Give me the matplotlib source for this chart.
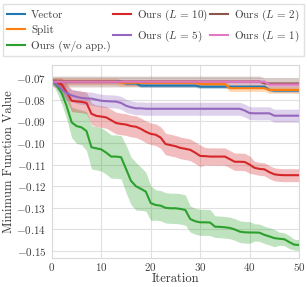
import numpy as np
import matplotlib
matplotlib.use("Agg")
import matplotlib.pyplot as plt

# Minimum function value vs. iteration (mean +/- std)

iterations = np.arange(51)

vector_mean = [-0.0716] * 15 + [-0.0725] * 3 + [-0.0735] * 12 + [-0.0740] * 14 + [-0.0755] + [-0.0758] * 6
vector_std = [0.0008] * 51

split_mean = [-0.0716] * 14 + [-0.0722] * 16 + [-0.0728] * 6 + [-0.0747] * 8 + [-0.0755] * 7
split_std = [0.0015] * 51

woapp_mean = [-0.0712, -0.0735, -0.0770, -0.0830, -0.0905, -0.0922, -0.0928, -0.0945, -0.1020, -0.1025,
              -0.1030, -0.1045, -0.1063, -0.1063, -0.1066, -0.1120, -0.1175, -0.1200, -0.1212, -0.1225,
              -0.1278, -0.1287, -0.1290, -0.1300, -0.1302, -0.1302, -0.1305, -0.1310, -0.1352, -0.1362,
              -0.1367, -0.1367, -0.1368, -0.1387, -0.1388, -0.1390, -0.1393, -0.1400, -0.1410, -0.1413,
              -0.1414, -0.1414, -0.1415, -0.1425, -0.1432, -0.1440, -0.1443, -0.1445, -0.1458, -0.1470,
              -0.1472]
woapp_std = [0.001, 0.003, 0.005, 0.006, 0.007, 0.008, 0.008, 0.009, 0.010, 0.010,
             0.010, 0.010, 0.010, 0.010, 0.010, 0.011, 0.011, 0.011, 0.010, 0.009,
             0.008, 0.007, 0.007, 0.007, 0.007, 0.007, 0.007, 0.007, 0.006, 0.006,
             0.006, 0.006, 0.006, 0.005, 0.005, 0.005, 0.005, 0.005, 0.005, 0.005,
             0.005, 0.004, 0.004, 0.004, 0.004, 0.004, 0.003, 0.003, 0.003, 0.0025,
             0.0025]

l10_mean = [-0.0712, -0.0720, -0.0730, -0.0765, -0.0805, -0.0808, -0.0810, -0.0815, -0.0865, -0.0875,
            -0.0878, -0.0882, -0.0895, -0.0908, -0.0912, -0.0915, -0.0922, -0.0925, -0.0935, -0.0948,
            -0.0958, -0.0962, -0.0975, -0.1005, -0.1010, -0.1015, -0.1023, -0.1027, -0.1032, -0.1045,
            -0.1060, -0.1061, -0.1063, -0.1063, -0.1063, -0.1063, -0.1075, -0.1087, -0.1087, -0.1088,
            -0.1100, -0.1115, -0.1120, -0.1122, -0.1135, -0.1145, -0.1148, -0.1149, -0.1149, -0.1149,
            -0.1149]
l10_std = [0.001, 0.002, 0.003, 0.004] + [0.005] * 27 + [0.004] * 10 + [0.003] * 10

l5_mean = [-0.0712, -0.0730, -0.0752, -0.0770, -0.0780, -0.0787, -0.0792, -0.0794, -0.0795, -0.0800,
           -0.0805, -0.0807, -0.0808, -0.0809, -0.0815, -0.0828, -0.0835, -0.0840, -0.0840] \
          + [-0.0842] * 20 + [-0.0850, -0.0862, -0.0863, -0.0863, -0.0863, -0.0863] + [-0.0874] * 6
l5_std = [0.001, 0.002] + [0.003] * 49

l2_mean = [-0.0716] * 43 + [-0.0725] * 8
l2_std = [0.0025] * 51

l1_mean = [-0.0717] * 44 + [-0.0730] * 7
l1_std = [0.001] * 51

labels = ["Vector", "Split", "Ours (w/o app.)", r"Ours ($L\,{=}\,10$)", r"Ours ($L\,{=}\,5$)",
          r"Ours ($L\,{=}\,2$)", r"Ours ($L\,{=}\,1$)"]
means = [vector_mean, split_mean, woapp_mean, l10_mean, l5_mean, l2_mean, l1_mean]
stds = [vector_std, split_std, woapp_std, l10_std, l5_std, l2_std, l1_std]
colors = ["tab:blue", "tab:orange", "tab:green", "tab:red", "tab:purple", "tab:brown", "tab:pink"]

plt.rcParams["font.family"] = ["cmr10", "DejaVu Serif"]
plt.rcParams["mathtext.fontset"] = "cm"
plt.rcParams["axes.formatter.use_mathtext"] = True
plt.rcParams["axes.unicode_minus"] = True

fig = plt.figure(figsize=(3.07, 2.87), dpi=100)
ax = fig.add_axes([0.169, 0.101, 0.805, 0.673])

for m, s, c, lab in zip(means, stds, colors, labels):
    m = np.array(m)
    s = np.array(s)
    ax.plot(iterations, m, color=c, lw=1.5, label=lab)
    ax.fill_between(iterations, m - s, m + s, color=c, alpha=0.3, lw=0)

ax.set_xlim(0, 50)
ax.set_ylim(-0.1532, -0.0639)
ax.set_xticks([0, 10, 20, 30, 40, 50])
ax.set_yticks([-0.07, -0.08, -0.09, -0.10, -0.11, -0.12, -0.13, -0.14, -0.15])
ax.set_yticklabels([f"$-{v:.2f}$" for v in [0.07, 0.08, 0.09, 0.10, 0.11, 0.12, 0.13, 0.14, 0.15]])
ax.set_xticklabels([f"${v}$" for v in [0, 10, 20, 30, 40, 50]])
ax.tick_params(length=0, labelsize=8, colors="0.25")
ax.tick_params(axis="x", pad=2)
ax.tick_params(axis="y", pad=4)
ax.grid(True, color="0.88", lw=0.8)
ax.set_axisbelow(True)
for sp in ax.spines.values():
    sp.set_color("0.85")
ax.set_xlabel("Iteration", fontsize=9, color="0.2", labelpad=0)
ax.set_ylabel("Minimum Function Value", fontsize=9, color="0.2", labelpad=1)

handles, labs = ax.get_legend_handles_labels()
leg = fig.legend(handles, labs, loc="upper center", bbox_to_anchor=(0.5, 0.995), ncol=3,
                 fontsize=8, frameon=True, handlelength=1.6, columnspacing=0.2,
                 handletextpad=0.55, labelspacing=0.5, borderpad=0.35, borderaxespad=0.2,
                 fancybox=False)
leg.get_frame().set_edgecolor("0.85")
for t in leg.get_texts():
    t.set_color("0.25")

plt.savefig("out.png", dpi=100)
